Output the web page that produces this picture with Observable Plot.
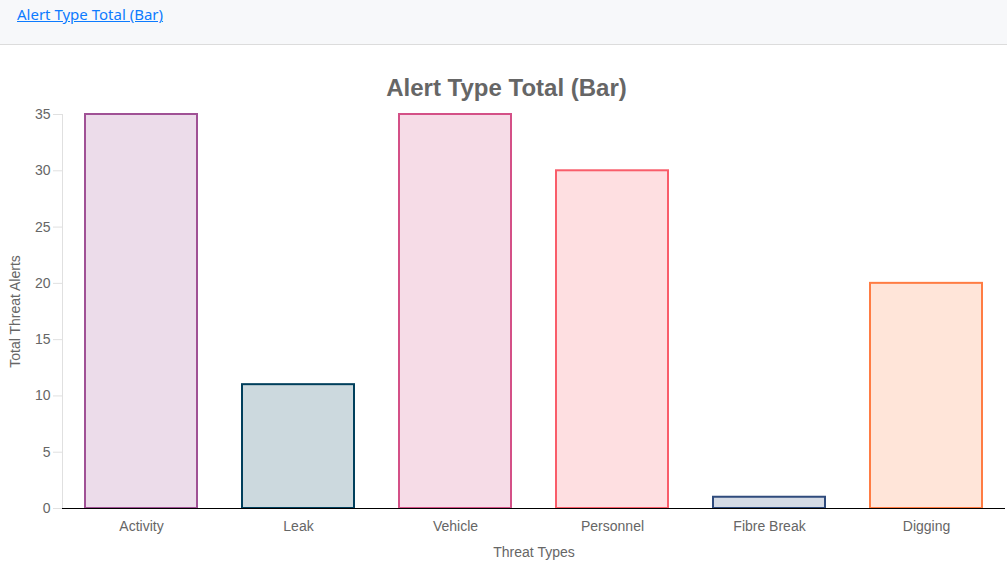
<!DOCTYPE html>
<html>
<head>
<meta charset="utf-8">
<script src="https://cdn.jsdelivr.net/npm/d3@7"></script>
<script src="https://cdn.jsdelivr.net/npm/@observablehq/plot@0.6"></script>
<style>
  html, body { margin: 0; padding: 0; background: #fff; width: 1007px; height: 562px; overflow: hidden; }
  .hdr { height: 44px; background: #f7f8fa; border-bottom: 1px solid #dcdcdc; box-sizing: content-box; }
  .hdr a { position: absolute; left: 17px; top: 4px; font-family: "Noto Sans", "Open Sans", sans-serif; font-size: 15px; color: #0d7bff; text-decoration: underline; }
  .title { height: 59px; box-sizing: border-box; padding-top: 30px; text-align: center; font-family: "Liberation Sans", Arial, sans-serif; font-weight: bold; font-size: 24px; color: #666; line-height: 26px; padding-left: 6px; }
  #chart svg { display: block; }
</style>
</head>
<body>
<div class="hdr"><a href="#">Alert Type Total (Bar)</a></div>
<div class="title">Alert Type Total (Bar)</div>
<div id="chart"></div>
<script>
const categories = ["Activity", "Leak", "Vehicle", "Personnel", "Fibre Break", "Digging"];
const values = [35, 11, 35, 30, 1, 20];
const colors = ["#a05195", "#003f5c", "#d45087", "#f95d6a", "#2f4b7c", "#ff7c43"];
const yTicks = [0, 5, 10, 15, 20, 25, 30, 35];

const data = categories.map((c, i) => ({category: c, value: values[i], color: colors[i]}));

const chart = Plot.plot({
  width: 1007,
  height: 458,
  marginTop: 10,
  marginBottom: 54,
  marginLeft: 62,
  marginRight: 2,
  style: { fontFamily: "'Liberation Sans', Arial, sans-serif", fontSize: "14px", color: "#666", background: "#fff" },
  x: { domain: categories, paddingInner: 0.285, paddingOuter: 0.1425, align: 0.5 },
  y: { domain: [0, 35], ticks: yTicks },
  color: { type: "identity" },
  marks: [
    Plot.gridY(yTicks, { stroke: "#e6e6e6", strokeOpacity: 1, x1: 52 }),
    Plot.frame({ anchor: "left", stroke: "#e0e0e0" }),
    Plot.barY(data, {
      x: "category", y: "value",
      fill: "color", fillOpacity: 0.2,
      stroke: "color", strokeWidth: 2, inset: 0
    }),
    Plot.ruleY([0], { stroke: "#000", strokeWidth: 1.2 }),
    Plot.axisY(yTicks, { tickSize: 9, tickPadding: 3, stroke: "#e0e0e0", fill: "#666", fontSize: 14, label: "Total Threat Alerts", labelArrow: "none", labelAnchor: "center", labelOffset: 52 }),
    Plot.axisX({ tickSize: 0, tickPadding: 13, fill: "#666", fontSize: 14, label: "Threat Types", labelArrow: "none", labelAnchor: "center", labelOffset: 48 })
  ]
});
document.getElementById("chart").appendChild(chart);
</script>
</body>
</html>
